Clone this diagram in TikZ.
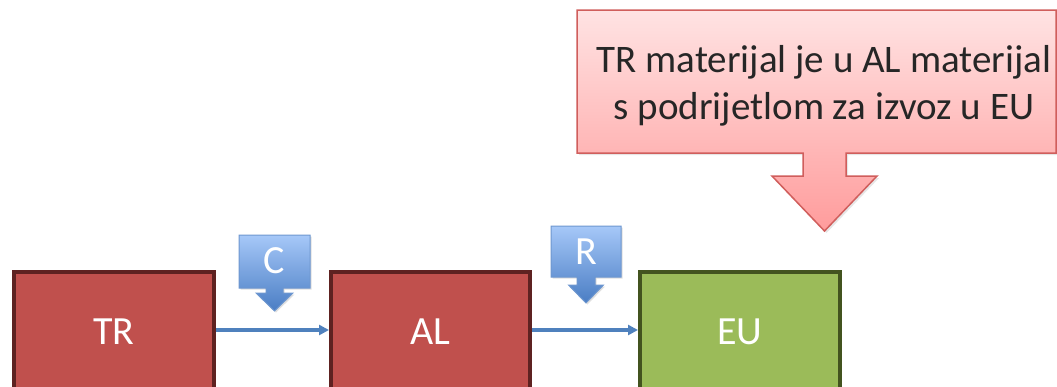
\documentclass[tikz,border=0pt]{standalone}
\usepackage{fontspec}
\setmainfont{Carlito}
\usetikzlibrary{arrows.meta,shadows}
\definecolor{boxred}{HTML}{C0504D}
\definecolor{boxredline}{HTML}{5E2221}
\definecolor{boxgreen}{HTML}{9BBB59}
\definecolor{boxgreenline}{HTML}{43531F}
\definecolor{flowblue}{HTML}{4F81BD}
\definecolor{calloutbluetop}{HTML}{A6C8F8}
\definecolor{calloutbluebot}{HTML}{4A7DC4}
\definecolor{calloutblueline}{HTML}{6E97CF}
\definecolor{pinktop}{HTML}{FFE3E3}
\definecolor{pinkbot}{HTML}{FF9C9C}
\definecolor{pinkline}{HTML}{D05E5C}
\definecolor{textdark}{HTML}{262626}
\tikzset{
  bigfont/.style={font=\fontsize{40bp}{48bp}\selectfont},
  stagebox/.style={draw, line width=4bp, inner sep=0pt, minimum height=120bp,
    text=white, bigfont, drop shadow={opacity=0.2, shadow xshift=1.5bp, shadow yshift=-1.5bp}},
  redstage/.style={stagebox, fill=boxred, draw=boxredline},
  greenstage/.style={stagebox, fill=boxgreen, draw=boxgreenline},
  flow/.style={draw=flowblue, line width=3.5bp, -{Triangle[length=10bp,width=10bp]}},
  bluecallout/.style={draw=calloutblueline, line width=1bp, top color=calloutbluetop,
    bottom color=calloutbluebot, line join=miter,
    drop shadow={opacity=0.25, shadow xshift=1.5bp, shadow yshift=-1.5bp}},
  pinkcallout/.style={draw=pinkline, line width=1.5bp, top color=pinktop,
    bottom color=pinkbot, line join=miter,
    drop shadow={opacity=0.2, shadow xshift=2bp, shadow yshift=-2bp}},
  callouttext/.style={bigfont, text=white, inner sep=0pt},
}
\begin{document}
\begin{tikzpicture}[x=1bp, y=-1bp]
\useasboundingbox (0,0) rectangle (1057,386);
\clip (0,0) rectangle (1057,386);
% stage boxes
\node[redstage, minimum width=200bp] (TR) at (114,332) {TR};
\node[redstage, minimum width=199bp] (AL) at (430.5,332) {AL};
\node[greenstage, minimum width=200bp] (EU) at (740,332) {EU};
% flows
\draw[flow] ([yshift=2bp]TR.east) -- ([yshift=2bp]AL.west);
\draw[flow] ([yshift=2bp]AL.east) -- ([yshift=2bp]EU.west);
% C callout
\path[bluecallout] (239,235) -- (310,235) -- (310,288) -- (283,288) -- (283,293)
  -- (293,293) -- (274.5,311) -- (256,293) -- (266,293) -- (266,288) -- (239,288) -- cycle;
\node[callouttext] (C) at (274.5,261) {C};
% R callout
\path[bluecallout] (551,226) -- (621,226) -- (621,277) -- (595,277) -- (595,285)
  -- (603.5,285) -- (586,303) -- (568.5,285) -- (577,285) -- (577,277) -- (551,277) -- cycle;
\node[callouttext] (R) at (586,252) {R};
% big callout
\path[pinkcallout] (577,10) -- (1056,10) -- (1056,153) -- (846,153) -- (846,176)
  -- (877,176) -- (824.5,231) -- (772,176) -- (803,176) -- (803,153) -- (577,153) -- cycle;
\node[bigfont, text=textdark, align=center, inner sep=0pt,
  font=\fontsize{39bp}{47bp}\selectfont] (note) at (824,85.5)
  {TR materijal je u AL materijal\\s podrijetlom za izvoz u EU};
\end{tikzpicture}
\end{document}
